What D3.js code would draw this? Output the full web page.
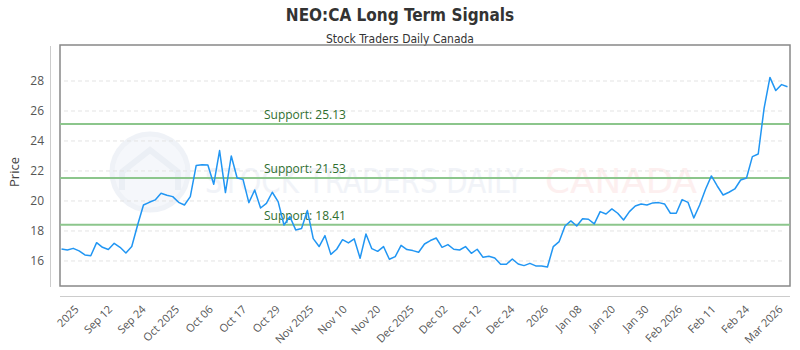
<!DOCTYPE html>
<html>
<head>
<meta charset="utf-8">
<script src="https://cdn.jsdelivr.net/npm/d3@7/dist/d3.min.js"></script>
<style>
  html, body { margin: 0; padding: 0; background: #fff; }
  svg { display: block; }
</style>
</head>
<body>
<svg id="chart" width="800" height="350"></svg>
<script>
// ---- data ----
const title = "NEO:CA Long Term Signals";
const subtitle = "Stock Traders Daily Canada";
const yLabel = "Price";

const prices = [
  16.8, 16.73, 16.84, 16.67, 16.4, 16.35, 17.22, 16.91, 16.76, 17.18,
  16.91, 16.53, 16.96, 18.4, 19.73, 19.91, 20.07, 20.51, 20.38, 20.29,
  19.91, 19.73, 20.29, 22.36, 22.42, 22.4, 21.11, 23.36, 20.56, 23.0,
  21.53, 21.44,
  19.89, 20.73, 19.53, 19.84, 20.58, 19.96, 18.4, 18.96, 18.07, 18.16,
  19.36, 17.49, 16.96, 17.69, 16.44, 16.78, 17.42, 17.2, 17.47, 16.18,
  17.8, 16.82, 16.64, 16.96, 16.11, 16.29, 17.04, 16.76, 16.69, 16.58,
  17.13, 17.36,
  17.53, 16.91, 17.09, 16.78, 16.73, 16.96, 16.51, 16.78, 16.24, 16.31,
  16.2, 15.78, 15.78, 16.13, 15.8, 15.69, 15.84, 15.67, 15.67, 15.6,
  16.96, 17.29, 18.33, 18.67, 18.33, 18.82, 18.78, 18.47, 19.29, 19.13,
  19.47,
  19.18, 18.73, 19.29, 19.67, 19.8, 19.73, 19.87, 19.89, 19.8, 19.18,
  19.18, 20.09, 19.91, 18.87, 19.73, 20.78, 21.67, 21.0, 20.4, 20.58,
  20.8, 21.4, 21.53, 22.96, 23.13, 26.18, 28.24, 27.36, 27.76, 27.62
];

const supportLevels = [25.13, 21.53, 18.41];

const xTickLabels = [
  "2025", "Sep 12", "Sep 24", "Oct 2025", "Oct 06", "Oct 17", "Oct 29",
  "Nov 2025", "Nov 10", "Nov 20", "Dec 2025", "Dec 02", "Dec 12", "Dec 24",
  "2026", "Jan 08", "Jan 20", "Jan 30", "Feb 2026", "Feb 11", "Feb 24", "Mar 2026"
];

const yTicks = [16, 18, 20, 22, 24, 26, 28];

// ---- layout ----
const svg = d3.select("#chart");
const plot = { left: 60, right: 790, top: 45, bottom: 286 };

const x = d3.scaleLinear().domain([0, prices.length - 1]).range([61.5, 787.5]);
const y = d3.scaleLinear().domain([14.33, 30.4]).range([plot.bottom, plot.top]);
const xTick = d3.scalePoint().domain(xTickLabels).range([80, 784]);

// title
svg.append("text")
  .attr("x", 400).attr("y", 21)
  .attr("text-anchor", "middle")
  .attr("font-family", "'Liberation Sans Narrow', 'DejaVu Sans Condensed', sans-serif")
  .attr("font-weight", "bold")
  .attr("font-size", 17)
  .attr("fill", "#333")
  .text(title);

svg.append("text")
  .attr("x", 400).attr("y", 43)
  .attr("text-anchor", "middle")
  .attr("font-family", "'Liberation Sans Narrow', 'DejaVu Sans Condensed', sans-serif")
  .attr("font-size", 12)
  .attr("fill", "#333")
  .text(subtitle);

// watermark
const wm = svg.append("g").attr("opacity", 0.55);
wm.append("circle").attr("cx", 150).attr("cy", 172).attr("r", 38)
  .attr("fill", "#eef2f8").attr("stroke", "#e2e8f2").attr("stroke-width", 5);
wm.append("path")
  .attr("d", "M122,190 L122,172 L150,150 L178,172 L178,190")
  .attr("fill", "none").attr("stroke", "#dbe2ee").attr("stroke-width", 6);
wm.append("text")
  .attr("x", 205).attr("y", 193)
  .attr("font-family", "'DejaVu Sans', sans-serif")
  .attr("font-size", 34)
  .attr("textLength", 318).attr("lengthAdjust", "spacingAndGlyphs")
  .attr("fill", "#e6ebf3")
  .text("STOCK TRADERS DAILY");
wm.append("text")
  .attr("x", 545).attr("y", 193)
  .attr("font-family", "'DejaVu Sans', sans-serif")
  .attr("font-size", 34)
  .attr("textLength", 152).attr("lengthAdjust", "spacingAndGlyphs")
  .attr("fill", "#fde3e3")
  .text("CANADA");

// grid
svg.append("g").selectAll("line").data(yTicks).join("line")
  .attr("x1", 64).attr("x2", 784)
  .attr("y1", d => y(d)).attr("y2", d => y(d))
  .attr("stroke", "#e3e3e3").attr("stroke-width", 1)
  .attr("stroke-dasharray", "4,3");

// plot border
svg.append("rect")
  .attr("x", plot.left).attr("y", plot.top)
  .attr("width", plot.right - plot.left).attr("height", plot.bottom - plot.top)
  .attr("fill", "none").attr("stroke", "#888").attr("stroke-width", 1.5);

// y axis
const yAxis = d3.axisLeft(y).tickValues(yTicks).tickSize(0).tickPadding(0);
const yg = svg.append("g").attr("transform", "translate(44,0)").call(yAxis);
yg.select(".domain").remove();
yg.selectAll("text")
  .attr("font-family", "'Open Sans', sans-serif")
  .attr("font-size", 12).attr("fill", "#555");
svg.append("line").attr("x1", 50.5).attr("x2", 50.5).attr("y1", 46).attr("y2", 287)
  .attr("stroke", "#ccc").attr("stroke-width", 1);

svg.append("text")
  .attr("transform", "translate(19,172) rotate(-90)")
  .attr("text-anchor", "middle")
  .attr("font-family", "'Open Sans', sans-serif")
  .attr("font-size", 13).attr("fill", "#444")
  .text(yLabel);

// x axis
svg.append("line").attr("x1", 60).attr("x2", 790).attr("y1", 296.5).attr("y2", 296.5)
  .attr("stroke", "#ccc").attr("stroke-width", 1);
const xAxis = d3.axisBottom(xTick).tickSize(0).tickPadding(0);
const xg = svg.append("g").attr("transform", "translate(0,302)").call(xAxis);
xg.select(".domain").remove();
xg.selectAll("text")
  .attr("font-family", "'Open Sans', sans-serif")
  .attr("font-size", 11).attr("fill", "#555")
  .attr("text-anchor", "end")
  .attr("dy", 0)
  .attr("y", 0)
  .attr("transform", "translate(-1,8) rotate(-45)");

// support lines
const sg = svg.append("g");
sg.selectAll("line").data(supportLevels).join("line")
  .attr("x1", plot.left).attr("x2", plot.right)
  .attr("y1", d => y(d)).attr("y2", d => y(d))
  .attr("stroke", "#8cc68c").attr("stroke-width", 2);
sg.selectAll("text").data(supportLevels).join("text")
  .attr("x", 264).attr("y", d => y(d) - 5)
  .attr("font-family", "'Open Sans', sans-serif")
  .attr("font-size", 12).attr("fill", "#2f6e2f")
  .text(d => "Support: " + d.toFixed(2));

// price line
svg.append("path")
  .datum(prices)
  .attr("d", d3.line().x((d, i) => x(i)).y(d => y(d)))
  .attr("fill", "none").attr("stroke", "#2196f3").attr("stroke-width", 1.5)
  .attr("stroke-linejoin", "round");
</script>
</body>
</html>
